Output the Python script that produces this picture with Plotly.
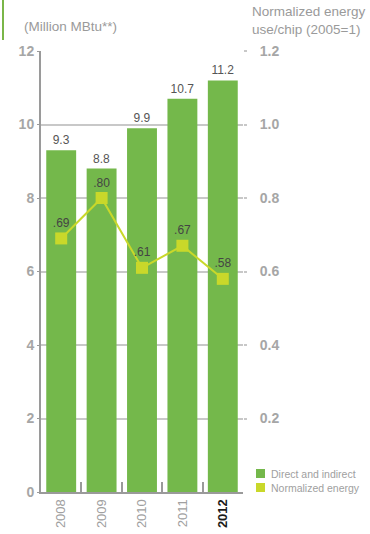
import plotly.graph_objects as go

# Energy use by year
years = ["2008", "2009", "2010", "2011", "2012"]
energy_mmbtu = [9.3, 8.8, 9.9, 10.7, 11.2]          # direct and indirect, million MBtu
normalized_energy = [0.69, 0.80, 0.61, 0.67, 0.58]  # energy use per chip, 2005 = 1

left_ticks = [0, 2, 4, 6, 8, 10, 12]
right_ticks = [0.2, 0.4, 0.6, 0.8, 1.0, 1.2]
series_names = ["Direct and indirect", "Normalized energy"]

BAR_GREEN = "#74b84b"
LINE_YELLOW = "#c9d82a"
GRAY = "#a0a0a0"
FONT = "Liberation Sans"

# plot area in pixels, used to place the side decorations in paper units
L, R, T, B, W, H = 41, 127, 51, 42, 370, 534
PW, PH = W - L - R, H - T - B


def px_x(px):
    return (px - L) / PW


def px_y(py):
    return (H - B - py) / PH


tick_text = [y if y != "2012" else "<span style='color:#1a1a1a'><b>2012</b></span>" for y in years]

fig = go.Figure()

fig.add_trace(go.Bar(
    x=years, y=energy_mmbtu, name=series_names[0],
    marker=dict(color=BAR_GREEN, line=dict(width=0)),
    text=[f"{v:.1f}" for v in energy_mmbtu],
    textposition="outside",
    textfont=dict(family=FONT, size=12, color="#555555"),
    cliponaxis=False,
    showlegend=False,
    hoverinfo="skip",
))

fig.add_trace(go.Scatter(
    x=years, y=normalized_energy, yaxis="y2", name=series_names[1],
    mode="lines+markers+text",
    line=dict(color=LINE_YELLOW, width=2),
    marker=dict(symbol="square", size=12, color=LINE_YELLOW),
    text=[f"{v:.2f}".lstrip("0") for v in normalized_energy],
    textposition="top center",
    textfont=dict(family=FONT, size=12, color="#444444"),
    cliponaxis=False,
    showlegend=False,
    hoverinfo="skip",
))

# Compact legend: square swatch + label for each series
shapes = [
    dict(type="line", xref="paper", yref="paper",
         x0=px_x(3), x1=px_x(3), y0=px_y(0), y1=px_y(40),
         line=dict(color="#7ab648", width=2)),
]
annotations = [
    dict(text="(Million MBtu**)", xref="paper", yref="paper",
         x=px_x(22), y=px_y(27), xanchor="left", yanchor="middle",
         showarrow=False, font=dict(size=13.5, color="#9a9a9a")),
    dict(text="Normalized energy", xref="paper", yref="paper",
         x=px_x(250), y=px_y(12), xanchor="left", yanchor="middle",
         showarrow=False, font=dict(size=13.5, color="#9a9a9a")),
    dict(text="use/chip (2005=1)", xref="paper", yref="paper",
         x=px_x(250), y=px_y(29), xanchor="left", yanchor="middle",
         showarrow=False, font=dict(size=13.5, color="#9a9a9a")),
]
for i, (name, color) in enumerate(zip(series_names, [BAR_GREEN, LINE_YELLOW])):
    top = 469 + 14 * i
    shapes.append(dict(type="rect", xref="paper", yref="paper",
                       x0=px_x(256), x1=px_x(265), y0=px_y(top + 9), y1=px_y(top),
                       fillcolor=color, line=dict(width=0)))
    annotations.append(dict(text=name, xref="paper", yref="paper",
                            x=px_x(269), y=px_y(top + 4.5), xanchor="left", yanchor="middle",
                            showarrow=False, font=dict(size=10.5, color=GRAY)))

fig.update_layout(
    width=W, height=H,
    margin=dict(l=L, r=R, t=T, b=B, autoexpand=False),
    paper_bgcolor="white", plot_bgcolor="white",
    showlegend=False,
    bargap=0.26,
    font=dict(family=FONT, color=GRAY),
    xaxis=dict(
        type="category", range=[-0.5, 4.5],
        tickmode="array", tickvals=years, ticktext=tick_text,
        tickangle=-90, tickfont=dict(size=13, color=GRAY),
        showline=True, linecolor="#9a9a9a", linewidth=2,
        ticks="inside", tickson="boundaries", ticklen=10,
        tickcolor="#9a9a9a", tickwidth=2,
        showgrid=False,
    ),
    yaxis=dict(
        range=[0, 12], tickvals=left_ticks,
        tickfont=dict(size=14, color="#a6a6a6", weight="bold"),
        showline=True, linecolor="#9a9a9a", linewidth=2,
        ticks="outside", ticklen=2, tickcolor="#9a9a9a",
        showgrid=True, gridcolor="#c8c8c8", gridwidth=1.5,
        zeroline=False,
    ),
    yaxis2=dict(
        overlaying="y", side="right", range=[0, 1.2],
        tickvals=right_ticks, tickformat=".1f",
        tickfont=dict(size=14, color="#a6a6a6", weight="bold"),
        ticklabelstandoff=10,
        showline=False, showgrid=False, zeroline=False,
        ticks="outside", ticklen=3, tickcolor="#c8c8c8", tickwidth=1.5,
    ),
    annotations=annotations,
    shapes=shapes,
)

fig.write_html("out.html")
